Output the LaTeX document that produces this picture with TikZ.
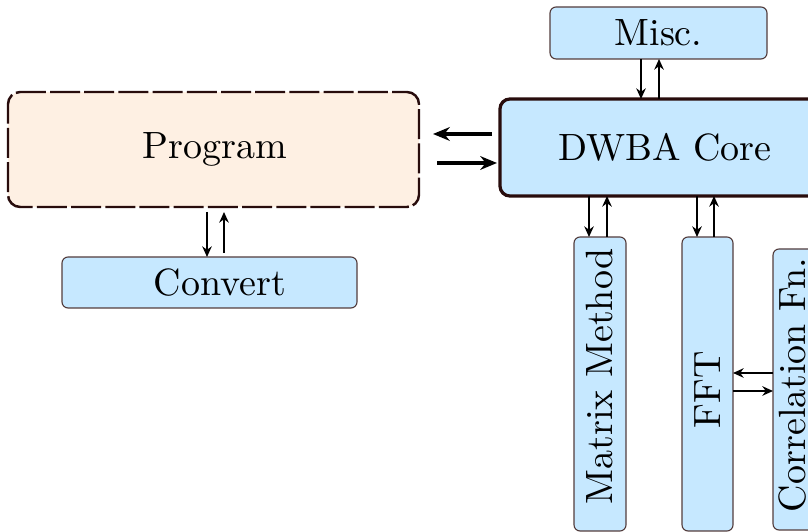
\documentclass[tikz,border=0pt]{standalone}
\usetikzlibrary{arrows.meta}
\definecolor{progfill}{RGB}{254,240,227}
\definecolor{bluefill}{RGB}{198,232,255}
\definecolor{edge}{RGB}{40,12,12}
\begin{document}
\begin{tikzpicture}[x=0.26316pt,y=-0.26316pt,
  every node/.style={font=\fontsize{10}{12}\selectfont, inner sep=0pt, outer sep=0pt},
  bluebox/.style={draw=edge!80, fill=bluefill, line width=0.3pt, rounded corners=1.6pt, rectangle},
  corebox/.style={draw=edge, fill=bluefill, line width=0.85pt, rounded corners=2.6pt, rectangle},
  progbox/.style={draw=edge, fill=progfill, line width=0.65pt, rounded corners=3.2pt, rectangle,
     dash pattern=on 7.9pt off 1.1pt, dash phase=4pt},
  arr/.style={-{Stealth[length=2.8pt,width=2.5pt]}, line width=0.5pt, black},
  bigarr/.style={-{Stealth[length=4.4pt,width=3.6pt]}, line width=0.8pt, black}]
\useasboundingbox (0,0) rectangle (808,532);
\clip (0,0) rectangle (808,532);

\node[progbox, minimum width=411*0.26316pt, minimum height=115*0.26316pt] (prog) at (213.5,149.5) {};
\node (progt) at (215,149.5) {Program};
\node[corebox, minimum width=330*0.26316pt, minimum height=97*0.26316pt] (core) at (665,147.5) {};
\node (coret) at (665,147.5) {DWBA Core};
\node[bluebox, minimum width=217*0.26316pt, minimum height=52*0.26316pt] (misc) at (658.5,33) {};
\node (misct) at (658.5,33) {Misc.};
\node[bluebox, minimum width=295*0.26316pt, minimum height=51*0.26316pt] (conv) at (209.5,282.5) {};
\node (convt) at (220,282.5) {Convert};
\node[bluebox, minimum width=52*0.26316pt, minimum height=294*0.26316pt] (mat) at (600,384) {};
\node[rotate=90] (matt) at (600,376.5) {Matrix Method};
\node[bluebox, minimum width=51*0.26316pt, minimum height=294*0.26316pt] (fft) at (707.5,384) {};
\node[rotate=90] (fftt) at (707.5,390) {FFT};
\node[bluebox, minimum width=48*0.26316pt, minimum height=281*0.26316pt] (corr) at (797,389.5) {};
\node[rotate=90] (corrt) at (792,385) {Correlation Fn.};

% Program <-> Core
\draw[bigarr] (492,134) -- (433,134);
\draw[bigarr] (437,163) -- (497,163);

% Misc <-> Core
\draw[arr] (641,0 |- misc.south) -- (641,0 |- core.north);
\draw[arr] (659,0 |- core.north) -- (659,0 |- misc.south);

% Program <-> Convert
\draw[arr] (207,212) -- (207,0 |- conv.north);
\draw[arr] (224,253) -- (224,212);

% Core <-> Matrix, FFT
\draw[arr] (589,0 |- core.south) -- (589,0 |- mat.north);
\draw[arr] (607,0 |- mat.north) -- (607,0 |- core.south);
\draw[arr] (697,0 |- core.south) -- (697,0 |- fft.north);
\draw[arr] (714,0 |- fft.north) -- (714,0 |- core.south);

% FFT <-> Correlation
\draw[arr] (corr.west |- 0,373) -- (fft.east |- 0,373);
\draw[arr] (fft.east |- 0,391) -- (corr.west |- 0,391);
\end{tikzpicture}
\end{document}
